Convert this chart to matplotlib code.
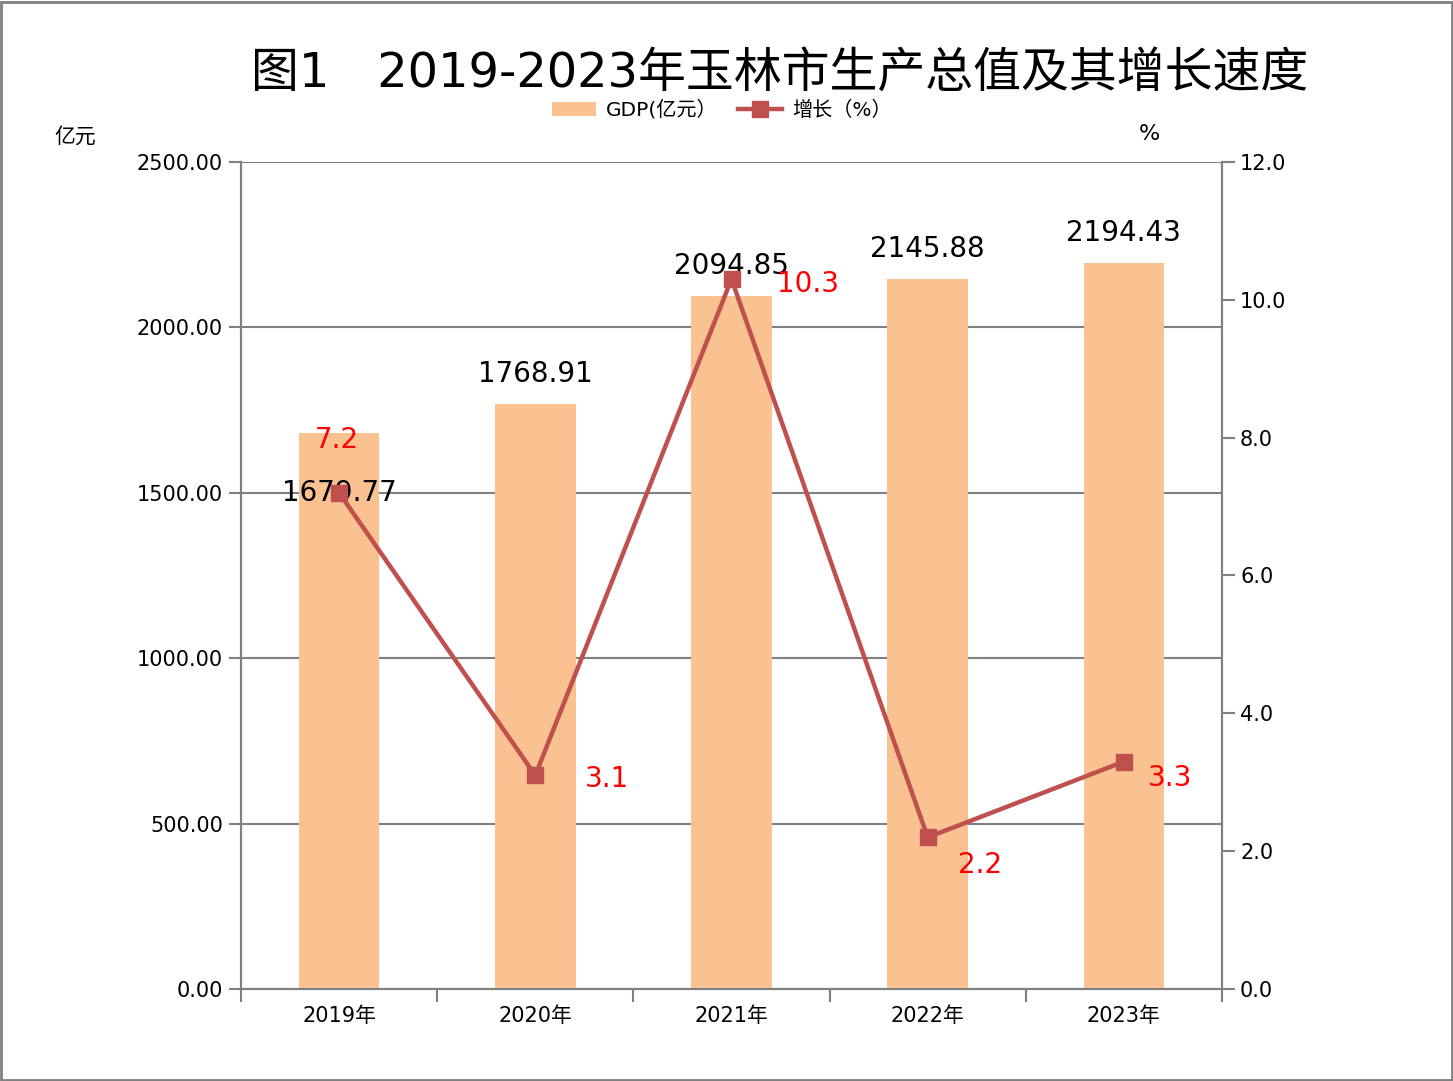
import matplotlib.pyplot as plt
from matplotlib.patches import Rectangle
import numpy as np

plt.rcParams['font.family'] = ['DejaVu Sans', 'Noto Sans CJK SC']

# Data
years = ['2019年', '2020年', '2021年', '2022年', '2023年']
gdp = [1679.77, 1768.91, 2094.85, 2145.88, 2194.43]
growth = [7.2, 3.1, 10.3, 2.2, 3.3]

bar_color = '#FAC191'
line_color = '#C0504D'
axis_gray = '#808080'

fig = plt.figure(figsize=(14.53, 10.81), dpi=100)
ax = fig.add_axes([241 / 1453, 1 - 989 / 1081, (1222 - 241) / 1453, (989 - 162) / 1081])
ax2 = ax.twinx()

x = np.arange(len(years))
bars = ax.bar(x, gdp, width=0.41, color=bar_color, zorder=3, label='GDP(亿元）')
ax.set_xlim(-0.5, len(years) - 0.5)
ax.set_ylim(0, 2500)
ax.set_yticks(np.arange(0, 2501, 500))
ax.set_yticklabels([f'{v:.2f}' for v in np.arange(0, 2501, 500)])
ax.grid(axis='y', color=axis_gray, linewidth=1.5, zorder=0)
ax.set_axisbelow(True)

# category boundary ticks on x
ax.set_xticks(np.arange(-0.5, len(years), 1.0))
ax.set_xticklabels([])
ax.set_xticks(x, minor=True)
ax.set_xticklabels(years, minor=True, fontsize=15)
ax.tick_params(axis='x', which='minor', length=0, pad=12)
ax.tick_params(axis='x', which='major', length=9, width=1.5, color=axis_gray, direction='out')
ax.tick_params(axis='y', length=9, width=1.5, color=axis_gray, labelsize=15, pad=4)

for s in ['left', 'bottom', 'right', 'top']:
    ax.spines[s].set_color(axis_gray)
    ax.spines[s].set_linewidth(1.5)
    ax2.spines[s].set_color(axis_gray)
    ax2.spines[s].set_linewidth(1.5)
ax.spines['top'].set_visible(False)
ax2.spines['top'].set_visible(False)

line, = ax2.plot(x, growth, color=line_color, linewidth=3.2, marker='s', markersize=11,
                 zorder=5, label='增长（%）')
ax2.set_ylim(0, 12)
ax2.set_yticks(np.arange(0, 12.1, 2))
ax2.set_yticklabels([f'{v:.1f}' for v in np.arange(0, 12.1, 2)])
ax2.tick_params(axis='y', length=9, width=1.5, color=axis_gray, labelsize=15, pad=4)

# bar value labels
for i, (b, v) in enumerate(zip(bars, gdp)):
    if i == 0:
        ax.text(b.get_x() + b.get_width() / 2, v - 180, f'{v:.2f}', ha='center', va='center',
                fontsize=20, zorder=6)
    else:
        ax.text(b.get_x() + b.get_width() / 2, v + 90, f'{v:.2f}', ha='center', va='center',
                fontsize=20, zorder=6)

# growth labels
offsets = [(-2, 53), (72, -4), (76, -5), (52, -28), (46, -16)]
for xi, g, (dx, dy) in zip(x, growth, offsets):
    ax2.annotate(f'{g}', (xi, g), xytext=(dx * 0.72, dy * 0.72), textcoords='offset points',
                 ha='center', va='center', fontsize=20, color='red', zorder=7)

# axis unit labels
fig.text(75 / 1453, 1 - 137 / 1081, '亿元', ha='center', va='center', fontsize=15,
         family=['Noto Sans CJK SC', 'DejaVu Sans'])
fig.text(1149 / 1453, 1 - 134 / 1081, '%', ha='center', va='center', fontsize=16)

# title
fig.text(780 / 1453, 1 - 74 / 1081, '图1\u30002019-2023年玉林市生产总值及其增长速度',
         ha='center', va='center', fontsize=34.5)

# legend
fig.legend(handles=[bars, line], loc='center', bbox_to_anchor=(722 / 1453, 1 - 110 / 1081),
           ncol=2, frameon=False, handlelength=2.2, columnspacing=1.0,
           handletextpad=0.5, prop={'size': 14.5})

# figure border
fig.patches.append(Rectangle((0.001, 0.001), 0.998, 0.997, transform=fig.transFigure,
                             fill=False, edgecolor=axis_gray, linewidth=2))

fig.savefig('out.png', dpi=100)
